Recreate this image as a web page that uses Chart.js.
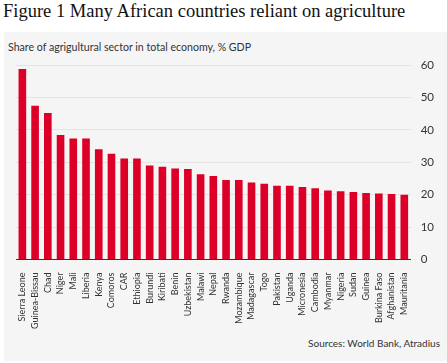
<!DOCTYPE html>
<html>
<head>
<meta charset="utf-8">
<script src="https://cdn.jsdelivr.net/npm/chart.js@4.4.1/dist/chart.umd.min.js"></script>
<style>
  html, body { margin: 0; padding: 0; background: #fff; }
  body { width: 447px; height: 363px; position: relative; overflow: hidden; }
  #title { position: absolute; left: 3px; top: 1px; font-family: "Liberation Serif", serif; font-size: 18.5px; color: #111; white-space: nowrap; }
  #panel { position: absolute; left: 4px; top: 32px; width: 443px; height: 329px; background: #f5f5f5; }
  #subtitle { position: absolute; left: 8px; top: 41px; font-family: "Lato", sans-serif; font-size: 10.6px; color: #333; white-space: nowrap; }
  #source { position: absolute; right: 7px; top: 337px; font-family: "Lato", sans-serif; font-size: 10px; color: #333; white-space: nowrap; }
  #wrap { position: absolute; left: 0; top: 0; width: 447px; height: 363px; }
</style>
</head>
<body>
<div id="title">Figure 1 Many African countries reliant on agriculture</div>
<div id="panel"></div>
<div id="subtitle">Share of agrigultural sector in total economy, % GDP</div>
<div id="source">Sources: World Bank, Atradius</div>
<div id="wrap"><canvas id="chart" width="447" height="363"></canvas></div>
<script>
// 国と農業比率（% GDP）
const countries = ['Sierra Leone', 'Guinea-Bissau', 'Chad', 'Niger', 'Mali', 'Liberia', 'Kenya', 'Comoros', 'CAR', 'Ethiopia',
    'Burundi', 'Kiribati', 'Benin', 'Uzbekistan', 'Malawi', 'Nepal', 'Rwanda', 'Mozambique', 'Madagascar', 'Togo',
    'Pakistan', 'Uganda', 'Micronesia', 'Cambodia', 'Myanmar', 'Nigeria', 'Sudan', 'Guinea', 'Burkina Faso', 'Afghanistan', 'Mauritania'];
const agriShare = [58.8, 47.4, 45.2, 38.4, 37.3, 37.3, 34.0, 32.6, 31.2, 31.2,
    29.0, 28.6, 28.1, 27.9, 26.3, 25.8, 24.5, 24.5, 23.8, 23.4,
    22.8, 22.8, 22.4, 22.0, 21.3, 21.1, 20.8, 20.5, 20.4, 20.2, 20.0];
const yTicks = [0, 10, 20, 30, 40, 50, 60];

new Chart(document.getElementById('chart'), {
    type: 'bar',
    data: {
        labels: countries,
        datasets: [{
            data: agriShare,
            backgroundColor: '#dc0028',
            borderWidth: 0,
            barPercentage: 0.6,
            categoryPercentage: 1.0
        }]
    },
    options: {
        responsive: false,
        animation: false,
        layout: { padding: { left: 16, right: 3, top: 65, bottom: 29 } },
        plugins: {
            legend: { display: false },
            tooltip: { enabled: false }
        },
        scales: {
            x: {
                grid: { display: false },
                border: { display: true, color: '#333', width: 1 },
                ticks: {
                    color: '#333',
                    font: { family: 'Lato', size: 9 },
                    minRotation: 90,
                    maxRotation: 90,
                    autoSkip: false,
                    padding: 5
                }
            },
            y: {
                position: 'right',
                min: 0,
                max: 60,
                afterBuildTicks: (axis) => { axis.ticks = yTicks.map(v => ({ value: v })); },
                grid: { color: '#e4e4e4', drawTicks: false },
                border: { display: false },
                ticks: {
                    color: '#333',
                    font: { family: 'Lato', size: 11.5 },
                    padding: 10
                }
            }
        }
    }
});
</script>
</body>
</html>
